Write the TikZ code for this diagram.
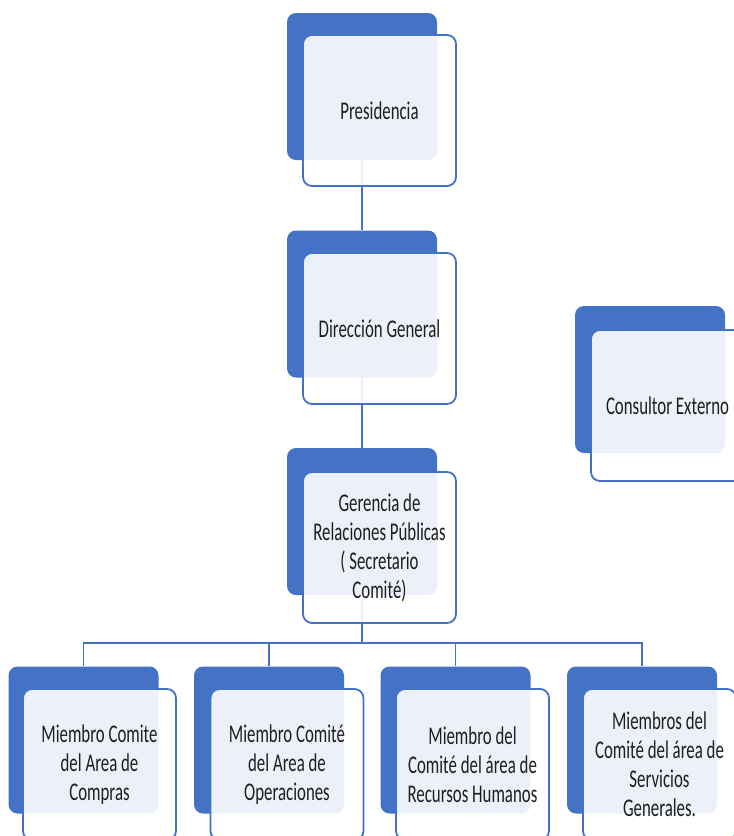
\documentclass[tikz,border=0pt]{standalone}
\usepackage{fontspec}
\newfontfamily\cf[FakeStretch=0.66]{Carlito}
\definecolor{acc}{RGB}{68,114,196}
\definecolor{txt}{RGB}{30,30,30}
\begin{document}
\begin{tikzpicture}[x=1pt,y=-1pt,
  backbox/.style={rectangle, rounded corners=9pt, fill=acc, draw=none,
    minimum width=150pt, minimum height=147pt, inner sep=0pt},
  frontbox/.style={rectangle, rounded corners=9pt, draw=acc, line width=1.8pt,
    fill=white, fill opacity=0.9, text opacity=1, text=txt,
    minimum width=153pt, minimum height=151pt, inner sep=0pt,
    align=center, font=\cf\fontsize{25.5}{29}\selectfont},
  conn/.style={draw=acc, line width=1.8pt}]
\useasboundingbox (0,0) rectangle (734,836);
\clip (0,0) rectangle (734,836);
% back boxes
\node[backbox] (pb) at (362,86.5) {};
\node[backbox] (db) at (362,304) {};
\node[backbox] (gb) at (362,521.5) {};
\node[backbox] (cb) at (650,379.5) {};
\node[backbox] (m1b) at (83.5,740) {};
\node[backbox] (m2b) at (269,740) {};
\node[backbox] (m3b) at (455.5,740) {};
\node[backbox] (m4b) at (642,740) {};
% connectors
\coordinate (bus) at (362,643);
\draw[conn] (pb.south) -- (db.north);
\draw[conn] (db.south) -- (gb.north);
\draw[conn] (gb.south) -- (bus);
\draw[conn] (m1b.north) |- (m4b.north |- bus) -- (m4b.north);
\draw[conn] (m2b.north) -- (m2b.north |- bus);
\draw[conn] (m3b.north) -- (m3b.north |- bus);
% front boxes
\node[frontbox] (pf) at (379.5,110.5) {Presidencia};
\node[frontbox] (df) at (379.5,328.5) {Dirección General};
\node[frontbox] (gf) at (379.5,547.5) {Gerencia de\\Relaciones Públicas\\( Secretario\\Comité)};
\node[frontbox] (cf) at (667.5,405.5) {Consultor Externo};
\node[frontbox] (m1f) at (99.5,764.5) {Miembro Comite\\del Area de\\Compras};
\node[frontbox] (m2f) at (287,764.5) {Miembro Comité\\del Area de\\Operaciones};
\node[frontbox] (m3f) at (472.5,764.5) {Miembro del\\Comité del área de\\Recursos Humanos};
\node[frontbox] (m4f) at (659.5,764.5) {Miembros del\\Comité del área de\\Servicios\\Generales.};
\end{tikzpicture}
\end{document}
